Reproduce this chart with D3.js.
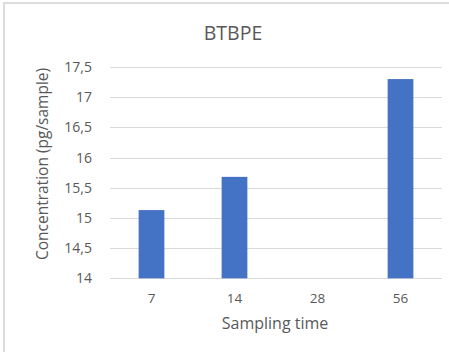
<!DOCTYPE html>
<html>
<head>
<meta charset="utf-8">
<title>BTBPE</title>
<script src="https://cdnjs.cloudflare.com/ajax/libs/d3/7.8.5/d3.min.js"></script>
<style>
  body { margin: 0; background: #fff; }
  text { font-family: "Open Sans", "Noto Sans", sans-serif; fill: #595959; }
</style>
</head>
<body>
<svg id="chart" width="449" height="352"></svg>
<script>
// data
var samplingTimes = ["7", "14", "28", "56"];
var concentrations = [15.13, 15.68, null, 17.30];
var yTicks = [14, 14.5, 15, 15.5, 16, 16.5, 17, 17.5];

var svg = d3.select("#chart");

// frame edges from the screenshot
svg.append("rect").attr("x", 3).attr("y", 2).attr("width", 446).attr("height", 2).attr("fill", "#dcdcdc");
svg.append("rect").attr("x", 3).attr("y", 2).attr("width", 2).attr("height", 350).attr("fill", "#dcdcdc");

var plot = { left: 110, right: 442, top: 67, bottom: 278.3 };

var x = d3.scaleBand()
    .domain(samplingTimes)
    .range([plot.left, plot.right])
    .paddingInner(0.69)
    .paddingOuter(0.345);

var y = d3.scaleLinear()
    .domain([14, 17.5])
    .range([plot.bottom, plot.top]);

var fmt = function(d) { return String(d).replace(".", ","); };

// gridlines
svg.append("g")
  .selectAll("line")
  .data(yTicks)
  .enter().append("line")
    .attr("x1", plot.left)
    .attr("x2", plot.right)
    .attr("y1", function(d) { return Math.round(y(d)) + 0.5; })
    .attr("y2", function(d) { return Math.round(y(d)) + 0.5; })
    .attr("stroke", "#d9d9d9")
    .attr("stroke-width", 1);

// bars
svg.append("g")
  .selectAll("rect")
  .data(samplingTimes.map(function(t, i) { return { t: t, v: concentrations[i] }; })
        .filter(function(d) { return d.v != null; }))
  .enter().append("rect")
    .attr("x", function(d) { return x(d.t); })
    .attr("width", x.bandwidth())
    .attr("y", function(d) { return y(d.v); })
    .attr("height", function(d) { return y(14) - y(d.v); })
    .attr("fill", "#4472c4");

// y axis
var yAxis = svg.append("g")
    .attr("transform", "translate(" + (plot.left - 10) + ",0)")
    .call(d3.axisLeft(y).tickValues(yTicks).tickFormat(fmt).tickSize(0).tickPadding(8));
yAxis.select(".domain").remove();
yAxis.selectAll("text").style("font-size", "14px").attr("fill", "#595959");

// x axis
var xAxis = svg.append("g")
    .attr("transform", "translate(0," + plot.bottom + ")")
    .call(d3.axisBottom(x).tickSize(0).tickPadding(15));
xAxis.select(".domain").remove();
xAxis.selectAll("text").style("font-size", "13.5px").attr("fill", "#595959");

// titles
svg.append("text")
    .attr("x", 233)
    .attr("y", 40)
    .attr("text-anchor", "middle")
    .style("font-size", "19.5px")
    .text("BTBPE");

svg.append("text")
    .attr("x", 275)
    .attr("y", 329)
    .attr("text-anchor", "middle")
    .style("font-size", "16px")
    .text("Sampling time");

svg.append("text")
    .attr("transform", "translate(48,164) rotate(-90)")
    .attr("text-anchor", "middle")
    .style("font-size", "15.5px")
    .text("Concentration (pg/sample)");
</script>
</body>
</html>
